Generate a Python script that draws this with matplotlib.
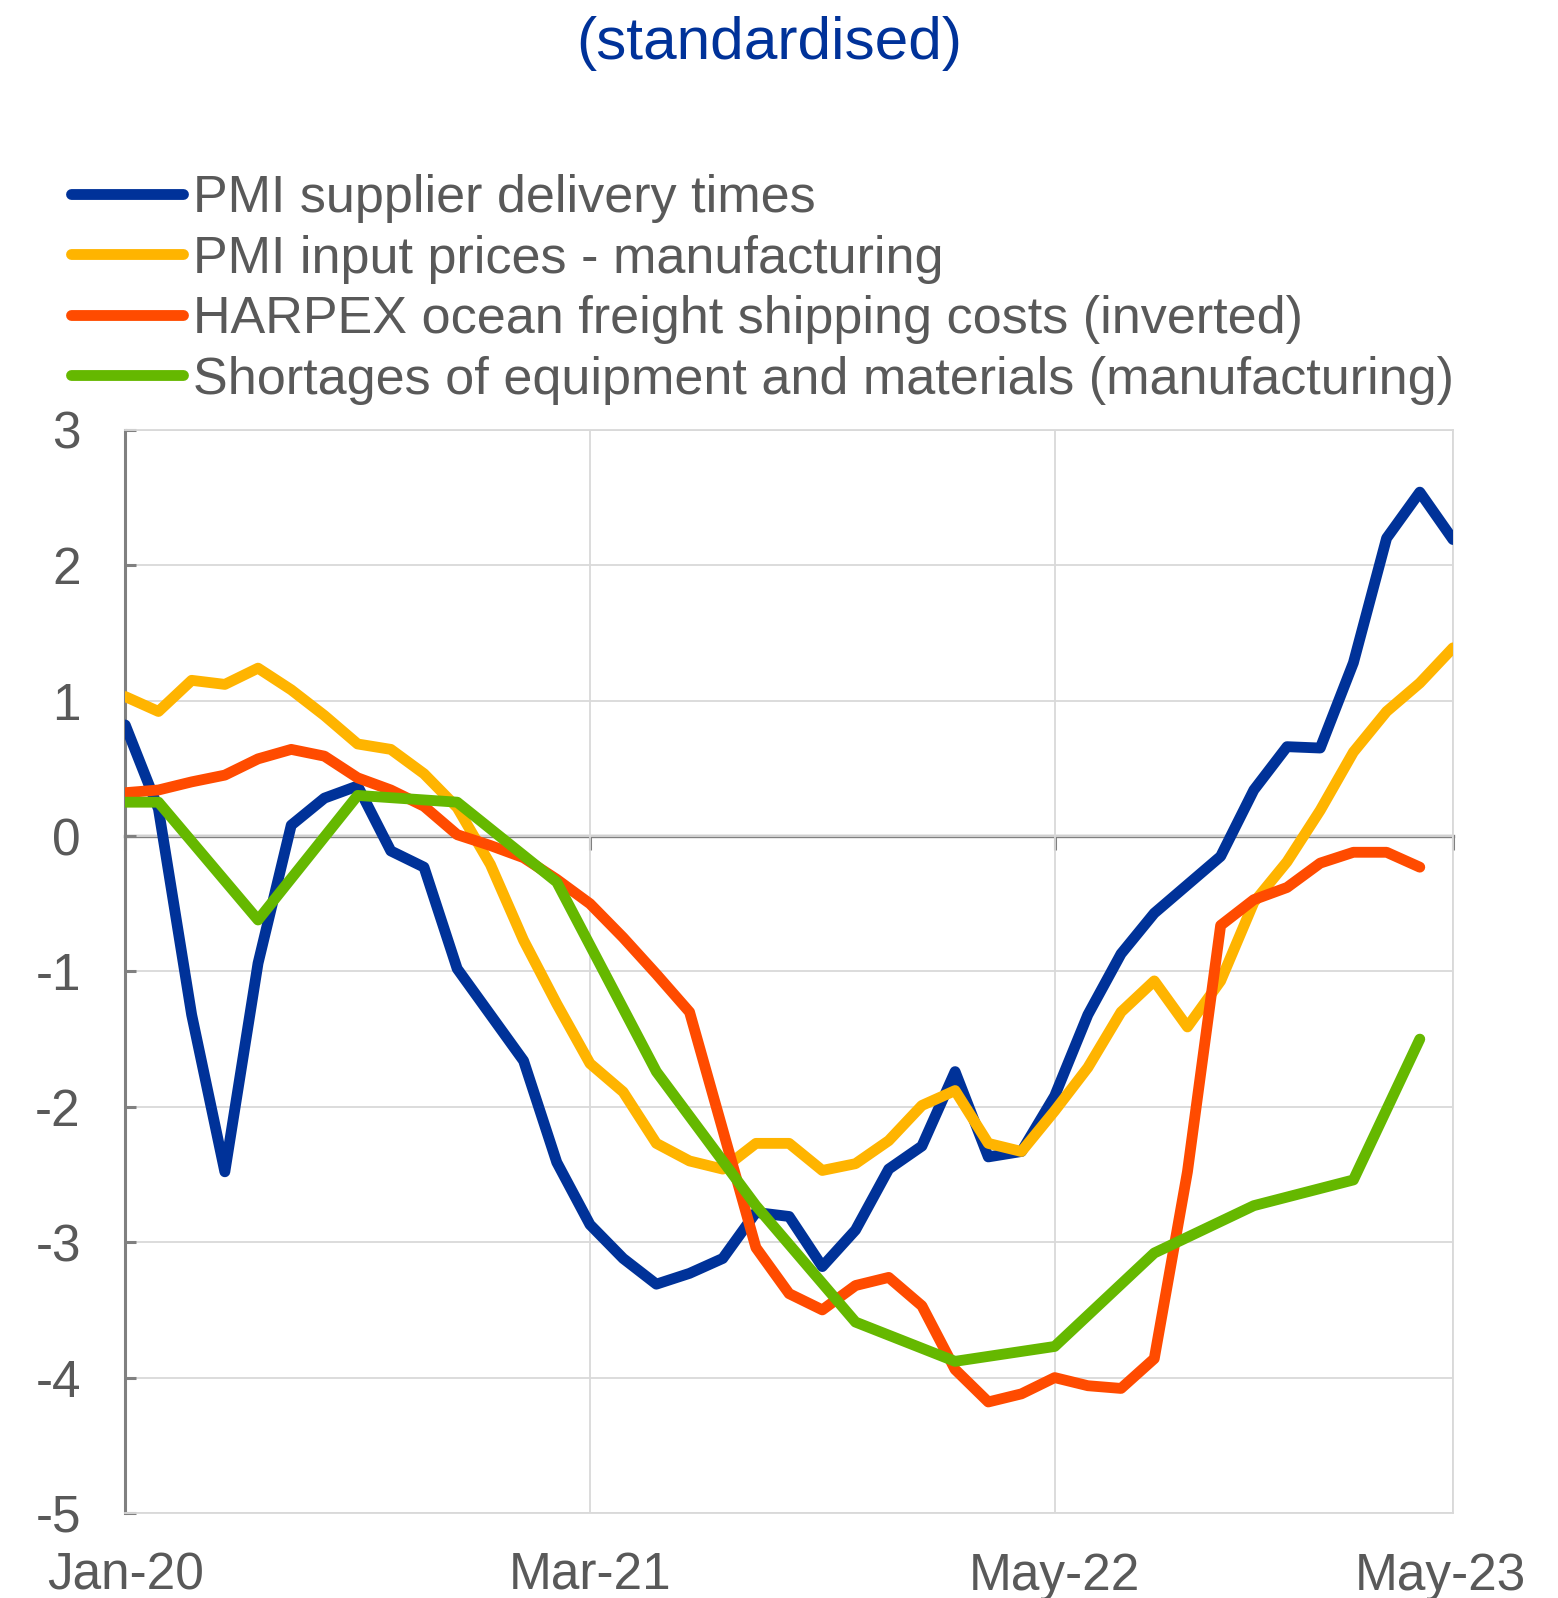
import numpy as np
import matplotlib
matplotlib.use("Agg")
import matplotlib.pyplot as plt
from matplotlib.transforms import ScaledTranslation

plt.rcParams['font.family'] = ['Liberation Sans', 'DejaVu Sans']
plt.rcParams['axes.unicode_minus'] = False

# ---- data ----
title = "(standardised)"
series_names = [
    "PMI supplier delivery times",
    "PMI input prices - manufacturing",
    "HARPEX ocean freight shipping costs (inverted)",
    "Shortages of equipment and materials (manufacturing)",
]
tick_positions = [0, 14, 28, 40]
tick_labels = ["Jan-20", "Mar-21", "May-22", "May-23"]

delivery_times = [0.82, 0.20, -1.32, -2.48, -0.94, 0.08, 0.28, 0.37, -0.11, -0.23,
                  -0.98, -1.32, -1.66, -2.41, -2.87, -3.12, -3.31, -3.23, -3.12, -2.78,
                  -2.81, -3.18, -2.91, -2.46, -2.29, -1.74, -2.37, -2.33, -1.92, -1.32,
                  -0.87, -0.57, -0.36, -0.15, 0.34, 0.66, 0.65, 1.28, 2.20, 2.54, 2.19]
input_prices = [1.03, 0.92, 1.15, 1.12, 1.24, 1.08, 0.89, 0.68, 0.64, 0.46,
                0.21, -0.21, -0.77, -1.24, -1.68, -1.89, -2.27, -2.40, -2.46, -2.27,
                -2.27, -2.47, -2.42, -2.25, -1.99, -1.88, -2.27, -2.33, -2.03, -1.71,
                -1.30, -1.07, -1.41, -1.07, -0.49, -0.19, 0.19, 0.62, 0.92, 1.13, 1.39]
harpex = [0.32, 0.34, 0.40, 0.45, 0.57, 0.64, 0.59, 0.43, 0.34, 0.22,
          0.01, -0.07, -0.16, -0.32, -0.50, -0.75, -1.02, -1.30, -2.17, -3.04,
          -3.38, -3.50, -3.32, -3.26, -3.47, -3.94, -4.18, -4.12, -4.00, -4.06,
          -4.08, -3.86, -2.48, -0.66, -0.47, -0.38, -0.20, -0.12, -0.12, -0.23]
shortages_month_index = [0, 1, 4, 7, 10, 13, 16, 19, 22, 25, 28, 31, 34, 37, 39]
shortages = [0.25, 0.25, -0.62, 0.30, 0.25, -0.34, -1.74, -2.73, -3.59, -3.88,
             -3.77, -3.08, -2.73, -2.54, -1.50]

colors = ["#003299", "#FFB400", "#FF4B00", "#65B800"]
text_gray = "#595959"

# ---- figure ----
fig = plt.figure(figsize=(15.58, 15.98), dpi=100)
ax = fig.add_axes([0.0804, 0.0532, 0.8522, 0.6778])

lw = 7.8
kw = dict(lw=lw, solid_joinstyle='round', solid_capstyle='round', zorder=3)
l1, = ax.plot(np.arange(len(delivery_times)), delivery_times, color=colors[0], **kw)
l2, = ax.plot(np.arange(len(input_prices)), input_prices, color=colors[1], **kw)
l3, = ax.plot(np.arange(len(harpex)), harpex, color=colors[2], **kw)
l4, = ax.plot(shortages_month_index, shortages, color=colors[3], **kw)

ax.set_xlim(0, 40)
ax.set_ylim(-5, 3)
ax.set_yticks(range(-5, 4))
ax.set_xticks(tick_positions)
ax.set_xticklabels(tick_labels)

ax.grid(True, color="#d9d9d9", lw=1.3, zorder=0)
ax.set_axisbelow(True)

for s in ['top', 'right', 'bottom']:
    ax.spines[s].set_color("#d9d9d9")
    ax.spines[s].set_linewidth(1.3)
ax.spines['left'].set_color("#808080")
ax.spines['left'].set_linewidth(2.2)

ax.tick_params(axis='y', direction='in', length=8, width=2.2, color="#808080",
               labelsize=37, labelcolor=text_gray, pad=32)
ax.tick_params(axis='x', length=0, labelsize=37, labelcolor=text_gray, pad=28)

# last x label nudged left so it stays inside the figure, as in the original
last_lbl = ax.get_xticklabels()[-1]
last_lbl.set_transform(last_lbl.get_transform() +
                       ScaledTranslation(-0.13, 0, fig.dpi_scale_trans))

# zero axis line with ticks
sec = ax.secondary_xaxis(5 / 8)
sec.set_alignment('bottom')
for s in ['top', 'bottom']:
    sec.spines[s].set_color("#808080")
    sec.spines[s].set_linewidth(2.4)
sec.set_xticks(tick_positions)
sec.set_xticklabels([])
sec.tick_params(axis='x', direction='out', length=10, width=2.2, color="#808080",
                labelbottom=False, labeltop=False)

fig.text(0.494, 0.9725, title, ha='center', va='center', fontsize=43.5, color="#003299")

leg = fig.legend([l1, l2, l3, l4], series_names, loc='upper left',
                 bbox_to_anchor=(0.0455, 0.891), frameon=False, fontsize=37.5,
                 labelcolor=text_gray, handlelength=2.15, handletextpad=0.2,
                 labelspacing=0.22, borderpad=0, borderaxespad=0)
for h in leg.legend_handles:
    h.set_linewidth(7.8)

fig.savefig("out.png", dpi=100)
